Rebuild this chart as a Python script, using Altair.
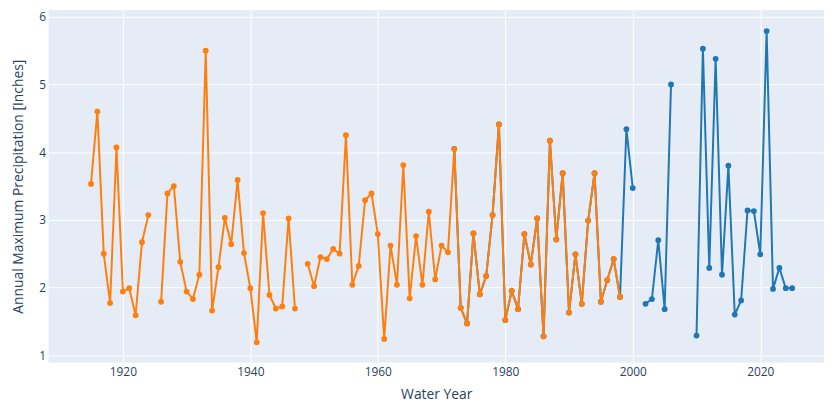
import altair as alt
import pandas as pd

# Orange series (older record), water years with values; gaps at 1925 and 1948
orange_years = list(range(1915, 1925)) + list(range(1926, 1948)) + list(range(1949, 1999))
orange_values = [
    3.53, 4.60, 2.50, 1.77, 4.07, 1.94, 1.99, 1.59, 2.67, 3.07,          # 1915-1924
    1.79, 3.39, 3.50, 2.38, 1.94, 1.83, 2.19, 5.50, 1.66, 2.30,          # 1926-1935
    3.03, 2.64, 3.59, 2.51, 1.99, 1.19, 3.10, 1.89, 1.69, 1.72,          # 1936-1945
    3.02, 1.69,                                                          # 1946-1947
    2.35, 2.02, 2.45, 2.42, 2.57, 2.50, 4.25, 2.04, 2.32, 3.29,          # 1949-1958
    3.39, 2.79, 1.24, 2.62, 2.04, 3.81, 1.84, 2.76, 2.04, 3.12,          # 1959-1968
    2.12, 2.62, 2.52, 4.05, 1.70, 1.47, 2.80, 1.90, 2.17, 3.07,          # 1969-1978
    4.41, 1.52, 1.95, 1.68, 2.79, 2.34, 3.02, 1.28, 4.17, 2.71,          # 1979-1988
    3.69, 1.63, 2.49, 1.76, 2.99, 3.69, 1.79, 2.11, 2.42, 1.86,          # 1989-1998
]

# Blue series (newer record): 1972-1998 shares the orange values, then its own
blue_new_years = [1999, 2000, 2002, 2003, 2004, 2005, 2006,
                  2010, 2011, 2012, 2013, 2014, 2015, 2016, 2017, 2018,
                  2019, 2020, 2021, 2022, 2023, 2024, 2025]
blue_new_values = [4.34, 3.47, 1.76, 1.83, 2.70, 1.68, 5.00,
                   1.29, 5.53, 2.29, 5.38, 2.19, 3.80, 1.60, 1.81, 3.14,
                   3.13, 2.49, 5.79, 1.98, 2.29, 1.99, 1.99]

overlap = [(y, v) for y, v in zip(orange_years, orange_values) if y >= 1972]
blue_years = [y for y, _ in overlap] + blue_new_years
blue_values = [v for _, v in overlap] + blue_new_values


def frame(years, values):
    df = pd.DataFrame({"year": years, "value": values})
    df["segment"] = (df["year"].diff() > 1).cumsum()
    return df


orange_df = frame(orange_years, orange_values)
blue_df = frame(blue_years, blue_values)

FONT = "Open Sans"
TEXT = "#2a3f5f"

x_enc = alt.X(
    "year:Q",
    scale=alt.Scale(domain=[1908.35, 2030.0], nice=False, zero=False),
    axis=alt.Axis(
        title="Water Year", values=[1920, 1940, 1960, 1980, 2000, 2020],
        format="d", ticks=False, domain=False, labelPadding=4,
        titlePadding=10, labelFontSize=12, titleFontSize=14,
        labelColor=TEXT, titleColor=TEXT, labelFont=FONT, titleFont=FONT,
        titleFontWeight="normal", gridColor="white", gridWidth=1, gridOpacity=1,
    ),
)
y_enc = alt.Y(
    "value:Q",
    scale=alt.Scale(domain=[0.893, 6.102], nice=False, zero=False),
    axis=alt.Axis(
        title="Annual Maximum Precipitation [Inches]", values=[1, 2, 3, 4, 5, 6],
        ticks=False, domain=False, labelPadding=3, titlePadding=13,
        labelFontSize=12, titleFontSize=14, labelColor=TEXT, titleColor=TEXT,
        labelFont=FONT, titleFont=FONT, titleFontWeight="normal",
        gridColor="white", gridWidth=1, gridOpacity=1,
    ),
)


def series(df, color):
    line = alt.Chart(df).mark_line(color=color, strokeWidth=2, clip=True).encode(
        x=x_enc, y=y_enc, detail="segment:N", order="year:Q"
    )
    pts = alt.Chart(df).mark_circle(color=color, size=34, opacity=1, clip=True).encode(
        x=x_enc, y=y_enc
    )
    return line + pts


chart = alt.layer(
    series(blue_df, "#1f77b4"),
    series(orange_df, "#ff7f0e"),
).properties(
    width=783,
    height=356,
    autosize=alt.AutoSizeParams(type="none"),
    padding={"left": 41, "top": 0, "right": 0, "bottom": 38},
    background="white",
).configure_view(
    fill="#E5ECF6", strokeWidth=0
)

chart.save("out.html", embed_options={"renderer": "svg", "actions": False})
